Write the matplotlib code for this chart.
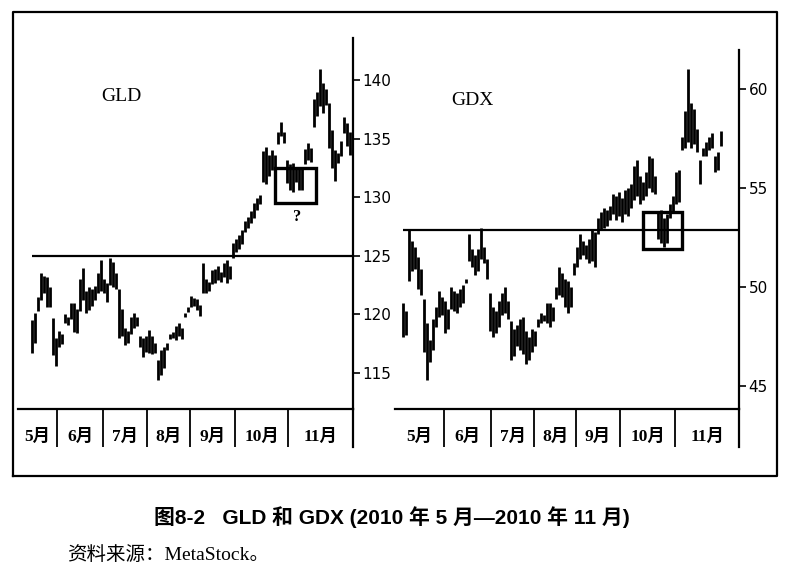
import numpy as np
import matplotlib
matplotlib.use("Agg")
import matplotlib.pyplot as plt
from matplotlib.patches import Rectangle

# ---------------------------------------------------------------------------
# data (daily-ish bars, high / low)
# ---------------------------------------------------------------------------

months = ["5月", "6月", "7月", "8月", "9月", "10月", "11月"]

# bar index where each new month starts (6月 ... 11月)
gld_month_starts = [8.3, 23.7, 38.3, 52.7, 67.7, 85.3]
gdx_month_starts = [13.7, 29.3, 43.7, 57.7, 72.3, 90.7]

gld_high = [
    119.5, 120.1, 121.5, 123.5, 123.3, 123.2, 122.3, 119.7, 118.0, 118.6,
    118.3, 120.0, 119.8, 121.0, 121.0, 120.5, 123.0, 124.0, 122.0, 122.3,
    122.2, 122.4, 123.5, 124.6, 123.0, 122.7, 124.8, 124.5, 123.5, 122.2,
    120.5, 118.8, 118.6, 119.8, 120.1, 119.8, 118.2, 118.0, 118.2, 118.7,
    118.2, 117.6, 116.1, 117.0, 117.2, 117.6, 118.3, 118.5, 119.0, 119.3,
    118.8, 120.1, 120.6, 121.6, 121.4, 121.3, 120.8, 124.4, 123.0, 122.8,
    123.8, 123.9, 124.1, 123.6, 124.4, 124.6, 124.1, 126.1, 126.4, 126.8,
    127.2, 128.0, 128.3, 128.8, 129.5, 129.9, 130.2, 133.9, 134.3, 133.6,
    134.0, 133.6, 135.6, 136.4, 135.6, 133.2, 132.8, 132.9, 132.6, 132.4,
    132.5, 134.1, 134.6, 134.2, 138.4, 139.0, 140.9, 139.7, 139.2, 138.0,
    135.7, 134.0, 133.8, 134.8, 136.8, 136.3, 135.6,
]
gld_low = [
    116.7, 117.6, 120.3, 121.2, 121.8, 120.6, 120.6, 116.5, 115.6, 117.2,
    117.5, 119.3, 119.1, 119.6, 118.5, 118.4, 120.3, 121.2, 120.1, 120.4,
    120.7, 121.2, 121.8, 122.0, 121.8, 121.1, 122.5, 122.3, 122.2, 118.0,
    118.2, 117.4, 117.6, 118.3, 118.8, 119.0, 117.2, 116.4, 116.8, 116.7,
    116.6, 116.7, 114.4, 114.8, 115.4, 117.0, 117.9, 118.0, 117.8, 118.2,
    117.9, 119.8, 120.2, 120.6, 120.7, 120.4, 119.9, 121.8, 121.8, 122.0,
    122.6, 122.7, 122.9, 122.8, 123.2, 122.7, 123.0, 124.8, 125.3, 125.6,
    126.0, 127.0, 127.4, 127.8, 128.2, 128.9, 129.4, 131.3, 131.1, 131.8,
    132.3, 132.5, 134.5, 135.2, 134.6, 131.2, 130.6, 130.4, 131.3, 130.6,
    130.6, 132.8, 133.2, 133.0, 136.0, 136.9, 137.8, 137.2, 137.9, 134.2,
    132.5, 131.4, 132.9, 133.5, 135.5, 134.4, 133.6,
]

gdx_high = [
    49.2, 48.8, 52.9, 52.3, 52.0, 51.5, 50.9, 49.4, 48.2, 47.3,
    48.4, 49.0, 49.8, 49.5, 49.3, 48.9, 50.0, 49.8, 49.7, 49.9,
    50.1, 50.4, 52.7, 51.9, 51.6, 51.9, 53.0, 52.0, 51.4, 49.7,
    49.0, 48.8, 49.3, 49.7, 50.0, 49.3, 48.3, 47.9, 48.1, 48.4,
    48.5, 47.8, 47.5, 47.9, 47.8, 48.4, 48.7, 48.6, 49.2, 49.2,
    49.0, 50.0, 51.0, 50.7, 50.4, 50.3, 50.0, 51.2, 52.0, 52.7,
    52.3, 52.1, 52.4, 52.9, 52.8, 53.5, 53.8, 54.0, 53.9, 54.1,
    54.7, 54.6, 54.8, 54.5, 54.9, 55.0, 55.2, 56.1, 56.4, 55.6,
    55.3, 55.8, 56.6, 56.5, 55.6, 53.8, 53.9, 53.5, 53.7, 54.2,
    54.6, 55.8, 55.9, 57.6, 58.9, 61.0, 59.3, 59.0, 58.0, 56.4,
    57.0, 57.3, 57.6, 57.8, 56.6, 56.8, 57.9,
]
gdx_low = [
    47.5, 47.6, 50.3, 50.8, 50.9, 49.9, 49.6, 46.7, 45.3, 46.2,
    46.8, 48.0, 48.5, 48.6, 47.7, 47.9, 48.9, 48.8, 48.7, 49.0,
    49.2, 50.2, 51.3, 51.0, 50.6, 50.8, 51.4, 51.2, 50.4, 47.8,
    47.5, 47.7, 48.0, 48.6, 48.7, 48.4, 46.3, 46.5, 47.0, 46.8,
    46.6, 46.1, 46.3, 46.7, 47.0, 48.0, 48.2, 48.3, 48.2, 48.0,
    48.3, 49.4, 49.6, 49.5, 49.0, 48.7, 49.0, 50.6, 51.0, 51.4,
    51.6, 51.4, 51.2, 51.3, 51.0, 52.7, 52.9, 53.0, 53.1, 53.4,
    53.7, 53.4, 53.6, 53.3, 53.7, 53.6, 54.0, 54.4, 54.6, 54.2,
    54.4, 54.6, 55.0, 54.8, 54.7, 52.4, 52.2, 52.0, 52.2, 53.5,
    53.8, 54.2, 54.3, 56.9, 57.0, 57.3, 57.0, 57.2, 56.8, 55.2,
    56.6, 56.6, 56.9, 57.0, 55.8, 55.9, 57.1,
]

gld_resistance = 125.0
gdx_resistance = 52.9

# boxes: (first bar, last bar, low, high)
gld_box = (81.0, 94.7, 129.5, 132.5)
gdx_box = (80.0, 93.0, 51.9, 53.8)

# ---------------------------------------------------------------------------
# layout (figure pixels, 800 x 571)
# ---------------------------------------------------------------------------

W, H = 800, 571
ROW_BOTTOM = 447  # month row lower end


def frac(left, top, right, bottom):
    return [left / W, 1 - bottom / H, (right - left) / W, (bottom - top) / H]


SERIF_CJK = ["Liberation Serif", "Noto Sans CJK SC"]
SANS_CJK = ["Liberation Sans", "Noto Sans CJK SC"]


def draw_panel(ax, high, low, month_starts, xlim, ylim, ticks,
               level, box, name, name_xy, px_height, mark=None):

    x = np.arange(len(high))

    ax.vlines(x, low, high, color="black", linewidth=2.0)

    ax.hlines(level, 0, xlim[1], color="black", linewidth=1.6)

    b0, b1, lo, hi = box
    ax.add_patch(Rectangle(
        (b0, lo), b1 - b0, hi - lo,
        fill=False, edgecolor="black", linewidth=2.4, zorder=4,
    ))

    if mark is not None:
        ax.text(mark[0], mark[1], "?", ha="center", va="center",
                fontsize=12, fontweight="bold", family="Liberation Serif")

    ax.text(name_xy[0], name_xy[1], name, ha="center", va="center",
            fontsize=14, family="Liberation Serif")

    ax.set_xlim(*xlim)
    ax.set_ylim(*ylim)

    for side in ("top", "left"):
        ax.spines[side].set_visible(False)
    ax.spines["right"].set_linewidth(1.6)
    ax.spines["bottom"].set_linewidth(1.6)

    ax.set_xticks([])
    ax.yaxis.tick_right()
    ax.set_yticks(ticks)
    ax.tick_params(axis="y", direction="out", length=5, width=1.2,
                   pad=2, labelsize=11)

    # month row below the plot
    depth = (ROW_BOTTOM - 409) / px_height
    trans = ax.get_xaxis_transform()

    ax.plot([1, 1], [0, -depth], color="black", linewidth=1.6,
            transform=ax.transAxes, clip_on=False)

    ax.vlines(month_starts, -depth, 0, color="black", linewidth=1.3,
              transform=trans, clip_on=False)

    edges = [xlim[0]] + list(month_starts) + [xlim[1]]
    label_y = -(437 - 409) / px_height
    for i, label in enumerate(months):
        ax.text((edges[i] + edges[i + 1]) / 2, label_y, label,
                transform=trans, ha="center", va="center",
                fontsize=12.5, fontweight="bold", family=SERIF_CJK)


fig = plt.figure(figsize=(8, 5.71), dpi=100)

# outer frame
frame = fig.add_axes([0, 0, 1, 1])
frame.set_xlim(0, W)
frame.set_ylim(H, 0)
frame.axis("off")
frame.plot([13, 13, 777, 777, 13], [476, 12, 12, 476, 476],
           color="black", linewidth=1.6)

ax1 = fig.add_axes(frac(18, 38, 353, 409))
draw_panel(
    ax1, gld_high, gld_low, gld_month_starts,
    xlim=(-4.67, 107.0), ylim=(111.93, 143.58),
    ticks=[115, 120, 125, 130, 135, 140],
    level=gld_resistance, box=gld_box,
    name="GLD", name_xy=(29.7, 138.6),
    px_height=409 - 38, mark=(88.3, 128.3),
)

ax2 = fig.add_axes(frac(395, 50, 739, 409))
draw_panel(
    ax2, gdx_high, gdx_low, gdx_month_starts,
    xlim=(-2.67, 112.0), ylim=(43.84, 61.97),
    ticks=[45, 50, 55, 60],
    level=gdx_resistance, box=gdx_box,
    name="GDX", name_xy=(23.0, 59.44),
    px_height=409 - 50,
)

fig.text(392 / W, 1 - 517 / H,
         "图8-2   GLD 和 GDX (2010 年 5 月—2010 年 11 月)",
         ha="center", va="center", fontsize=15, fontweight="bold",
         family=SANS_CJK)

fig.text(67 / W, 1 - 555 / H, "资料来源：MetaStock。",
         ha="left", va="center", fontsize=14, family=SERIF_CJK)

fig.savefig("out.png", dpi=100)
